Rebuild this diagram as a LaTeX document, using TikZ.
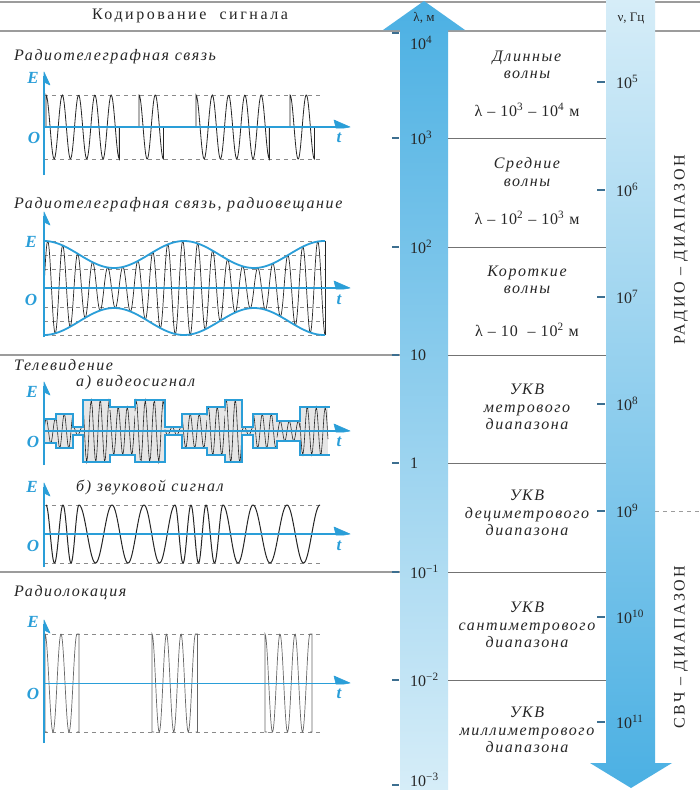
\documentclass[tikz,border=0pt]{standalone}
\usepackage{fontspec}
\setmainfont{Liberation Serif}
\usepackage{tikz}
\definecolor{WAxis}{HTML}{2A9ED8}
\definecolor{WDark}{HTML}{4BB0E3}
\definecolor{WLight}{HTML}{D6EDF8}
\definecolor{WGuide}{HTML}{8A8A8A}
\definecolor{WRule}{HTML}{9C9C9C}
\definecolor{WText}{HTML}{262626}
\definecolor{WTick}{HTML}{3D6F90}
\definecolor{WFill}{HTML}{E6E6E6}

\begin{document}
\begin{tikzpicture}[x=1pt,y=-1pt,
    ax/.style={WAxis,line width=1.4pt},
    axhead/.style={draw=WAxis,fill=WAxis,line width=0.6pt,line join=round},
    guide/.style={WGuide,dash pattern=on 4pt off 4pt,line width=0.6pt},
    sig/.style={black!85,line width=0.8pt},
    env/.style={WAxis,line width=1.8pt},
    rad/.style={black!60,line width=0.7pt},
    rule/.style={WRule,line width=1.3pt},
    sep/.style={black!55,line width=0.7pt},
    tick/.style={WTick,line width=1.5pt},
    axl/.style={font=\fontsize{17}{17}\selectfont\bfseries\itshape,text=WAxis,inner sep=0pt},
    ttl/.style={font=\fontsize{16}{18}\selectfont\itshape\addfontfeature{LetterSpace=10},text=WText,anchor=west,inner sep=0pt},
    band/.style={font=\fontsize{16}{17.5}\selectfont\itshape\addfontfeature{LetterSpace=10},text=WText,align=center,inner sep=0pt},
    lam/.style={font=\fontsize{16}{17}\selectfont\addfontfeature{LetterSpace=6},text=WText,inner sep=0pt},
    num/.style={font=\fontsize{16}{16}\selectfont,text=WText,anchor=west,inner sep=0pt},
    side/.style={font=\fontsize{16}{16}\selectfont\addfontfeature{LetterSpace=16},text=WText,rotate=90,inner sep=0pt}
  ]
    \useasboundingbox (0,0) rectangle (700,790);
    \fill[white] (0,0) rectangle (700,790);
    \draw[rule] (0,2) -- (700,2);
    \draw[rule] (0,31) -- (700,31);
    \draw[rule] (0,355) -- (400,355);
    \draw[rule] (0,572) -- (400,572);
    \draw[WRule,dash pattern=on 4pt off 4pt] (655,511) -- (700,511);
    \node[font=\fontsize{16}{16}\selectfont\addfontfeature{LetterSpace=16},text=WText] (head) at (190,16) {Кодирование \ сигнала};

    % wavelength and frequency scales
    \shade[top color=WDark,bottom color=WLight] (400,790) -- (400,30) -- (383,30) -- (424,1) -- (465,30) -- (448,30) -- (448,790) -- cycle;
    \shade[top color=WLight,bottom color=WDark] (606,0) -- (606,763) -- (590,763) -- (631,788) -- (672,763) -- (655,763) -- (655,0) -- cycle;
    \node[font=\fontsize{13}{13}\selectfont,text=WText] (lamu) at (424,18) {λ, м};
    \node[font=\fontsize{13}{13}\selectfont,text=WText] (nuu) at (631,18) {ν, Гц};
    \foreach \y in {138,247,355,463,572,680}
      \draw[sep] (448,\y) -- (606,\y);
    \foreach \y in {33,138,247,355,463,572,680,785}
      \draw[tick] (392,\y) -- (399,\y);
    \node[num] (l4) at (410,43) {10\textsuperscript{4}};
    \node[num] (l3) at (410,138) {10\textsuperscript{3}};
    \node[num] (l2) at (410,247) {10\textsuperscript{2}};
    \node[num] (l1) at (410,355) {10};
    \node[num] (l0) at (410,463) {1};
    \node[num] (lm1) at (410,572) {10\textsuperscript{−1}};
    \node[num] (lm2) at (410,680) {10\textsuperscript{−2}};
    \node[num] (lm3) at (410,780) {10\textsuperscript{−3}};
    \foreach \y/\v in {82/5,190/6,297/7,404/8,511/9,617/10,722/11}{
      \draw[tick] (597,\y) -- (605,\y);
      \node[num] (f\v) at (616,\y) {10\textsuperscript{\v}};
    }
    \node[side] (radio) at (681,250) {РАДИО – ДИАПАЗОН};
    \node[side] (svch) at (681,647) {СВЧ – ДИАПАЗОН};

    \node[band] (b1) at (527,65) {Длинные\\волны};
    \node[lam] (b1l) at (527,110) {λ – 10\textsuperscript{3} – 10\textsuperscript{4} м};
    \node[band] (b2) at (527,172) {Средние\\волны};
    \node[lam] (b2l) at (527,218) {λ – 10\textsuperscript{2} – 10\textsuperscript{3} м};
    \node[band] (b3) at (527,280) {Короткие\\волны};
    \node[lam] (b3l) at (527,330) {λ – 10 \ – 10\textsuperscript{2} м};
    \node[band] (b4) at (527,407) {УКВ\\метрового\\диапазона};
    \node[band] (b5) at (527,513) {УКВ\\дециметрового\\диапазона};
    \node[band] (b6) at (527,625) {УКВ\\сантиметрового\\диапазона};
    \node[band] (b7) at (527,730) {УКВ\\миллиметрового\\диапазона};

    % panel 1
    \node[ttl] (p1) at (14,57) {Радиотелеграфная связь};
    \begin{scope}[shift={(0,127)},yscale=-1]
      \draw[guide] (44,32) -- (322,32) (44,-32) -- (322,-32);
      \foreach \xa/\np in {46/4.5,139/1.5,196/4.5,290/1.5}
        \draw[sig] (\xa,0) -- (\xa,32) -- plot[domain=0:\np*360,samples=90] ({\xa+\x/360*16.3},{32*cos(\x)}) -- ++(0,32);
    \end{scope}
    \node[axl] (e1) at (33,78) {E};
    \node[axl] (o1) at (34,138) {O};
    \node[axl] (t1) at (339,138) {t};

    % panel 2
    \node[ttl] (p2) at (14,205) {Радиотелеграфная связь, радиовещание};
    \begin{scope}[shift={(0,288)},yscale=-1]
      \foreach \h in {19,33,47}
        \draw[guide] (44,\h) -- (325,\h) (44,-\h) -- (325,-\h);
      \draw[sig,line width=0.7pt] plot[domain=44:325,samples=700] (\x,{(33.5+13.5*cos((\x-44)/140*360))*sin((\x-44)/15*360)});
      \draw[sig,line width=0.7pt] (325,47) -- (325,-47);
      \draw[env] plot[domain=44:325,samples=120] (\x,{33.5+13.5*cos((\x-44)/140*360)});
      \draw[env] plot[domain=44:325,samples=120] (\x,{-33.5-13.5*cos((\x-44)/140*360)});
    \end{scope}
    \node[axl] (e2) at (31,242) {E};
    \node[axl] (o2) at (31,300) {O};
    \node[axl] (t2) at (339,300) {t};

    % panel 3
    \node[ttl] (p3) at (14,365) {Телевидение};
    \node[ttl] (p3a) at (76,383) {а) видеосигнал};
    \def\vidtop{(44,12) -| (56,17) -| (73,4) -| (83,31) -| (110,24) -| (135,31) -| (165,4) -| (182,17) -| (207,24) -| (225,31) -| (242,4) -| (253,17) -| (277,10) -| (300,24) -- (330,24)}
    \begin{scope}[shift={(0,431)},yscale=-1]
      \foreach \xs/\xe/\am in {44/56/12,56/73/17,73/83/4,83/110/31,110/135/24,135/165/31,165/182/4,182/207/17,207/225/24,225/242/31,242/253/4,253/277/17,277/300/10,300/328/24}{
        \fill[WFill] (\xs,-\am) rectangle (\xe,\am);
        \draw[sig,line width=0.6pt] plot[domain=\xs:\xe,samples=30] (\x,{\am*sin((\x-44)/9*360)});
      }
      \draw[env] \vidtop;
      \begin{scope}[yscale=-1]
        \draw[env] \vidtop;
      \end{scope}
    \end{scope}
    \node[axl] (e3) at (32,392) {E};
    \node[axl] (o3) at (33,442) {O};
    \node[axl] (t3) at (339,442) {t};

    \node[ttl] (p3b) at (76,487) {б) звуковой сигнал};
    \begin{scope}[shift={(0,534)},yscale=-1]
      \draw[guide] (44,29) -- (322,29) (44,-29) -- (322,-29);
      \foreach \pa/\pb in {46/63,63/79,79/112,112/144,144/175,175/191,191/206,206/223,223/253,253/287,287/320}
        \draw[sig,line width=1pt] plot[domain=0:360,samples=40] ({\pa+(\pb-\pa)*\x/360},{29*cos(\x)});
    \end{scope}
    \node[axl] (e4) at (32,487) {E};
    \node[axl] (o4) at (33,546) {O};
    \node[axl] (t4) at (339,546) {t};

    % panel 4
    \node[ttl] (p4) at (14,593) {Радиолокация};
    \begin{scope}[shift={(0,683)},yscale=-1]
      \draw[guide] (44,49) -- (322,49) (44,-49) -- (322,-49);
      \foreach \xa/\tp/\np in {45/16/2,152/14.5/3,265/15/3}
        \draw[rad] (\xa+2,-49) -- (\xa,-49) -- (\xa,49) -- plot[domain=0:\np*360,samples=80] ({\xa+\tp*\x/360},{49*cos(\x)}) -- ++(2,0) -- ++(0,-98) -- ++(-2,0);
    \end{scope}
    \node[axl] (e5) at (33,622) {E};
    \node[axl] (o5) at (33,694) {O};
    \node[axl] (t5) at (339,694) {t};

    % E and t axes
    \foreach \ya/\yt/\yb/\lw in {127/72/175/1.4,288/212/337/1.4,431/382/465/1.4,534/483/567/1.4,683/620/743/0.8}{
      \draw[ax,line width=\lw pt] (44,\ya) -- (344,\ya);
      \draw[axhead] (350,\ya) -- (334,{\ya-7}) -- (336,{\ya+1}) -- (344,{\ya+1}) -- cycle;
      \draw[ax] (44,\yb) -- (44,{\yt+4});
      \draw[axhead] (44,\yt) -- (50,{\yt+13}) -- (44,{\yt+10}) -- cycle;
    }
  \end{tikzpicture}
\end{document}
